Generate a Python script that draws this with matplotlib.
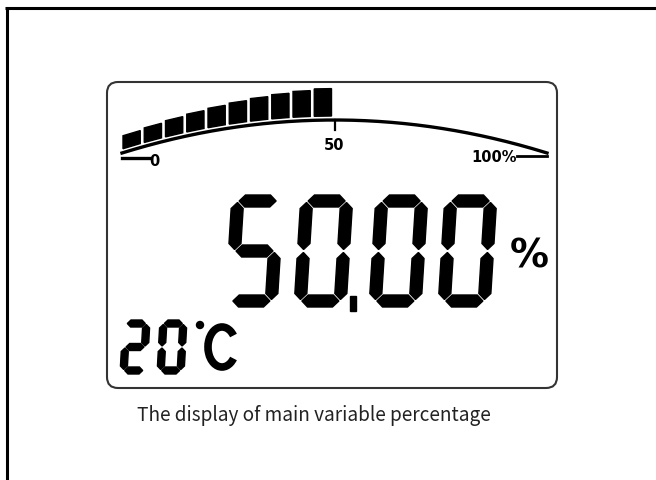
import numpy as np
import matplotlib.pyplot as plt
from matplotlib.patches import Polygon, FancyBboxPatch, Arc, Circle, Rectangle

# readings shown on the LCD
gauge_percent = 50
gauge_segments = 20
gauge_ticks = [0, 50, 100]
gauge_tick_labels = ['0', '50', '100%']
main_value = '50.00'
main_unit = '%'
temperature = '20'
caption = 'The display of main variable percentage'

SEGMENTS = {'0': 'abcdef', '1': 'bc', '2': 'abged', '3': 'abgcd', '4': 'fgbc',
            '5': 'afgcd', '6': 'afgedc', '7': 'abc', '8': 'abcdefg', '9': 'abcdfg'}


def seg_shapes(h, w, t, g):
    # one hexagon per segment, u to the right, v downwards
    l, r = t / 2, w - t / 2
    top, mid, bot = t / 2, h / 2, h - t / 2

    def horiz(vc):
        return [(l + g, vc), (l + g + t / 2, vc - t / 2), (r - g - t / 2, vc - t / 2),
                (r - g, vc), (r - g - t / 2, vc + t / 2), (l + g + t / 2, vc + t / 2)]

    def vert(uc, v1, v2):
        return [(uc, v1 + g), (uc + t / 2, v1 + g + t / 2), (uc + t / 2, v2 - g - t / 2),
                (uc, v2 - g), (uc - t / 2, v2 - g - t / 2), (uc - t / 2, v1 + g + t / 2)]

    return {'a': horiz(top), 'g': horiz(mid), 'd': horiz(bot),
            'f': vert(l, top, mid), 'b': vert(r, top, mid),
            'e': vert(l, mid, bot), 'c': vert(r, mid, bot)}


def draw_digits(ax, text, x0, y0, h, w, t, pitch, slant, g=1.5, dp=6):
    shapes = seg_shapes(h, w, t, g)
    x = x0
    for ch in text:
        if ch == '.':
            ax.add_patch(Rectangle((x - (pitch - w) / 2 - dp / 2 - 2, y0 + h - 11), dp, 15,
                                   color='black'))
            x += dp
            continue
        for s in SEGMENTS[ch]:
            pts = [(x + u + slant * (h - v), y0 + v) for u, v in shapes[s]]
            ax.add_patch(Polygon(pts, closed=True, color='black'))
        x += pitch


def gauge_x(p):
    return 122 + 4.25 * np.asarray(p)


def gauge_y(p):
    return 120 + 33 * ((np.asarray(p) - 50) / 50) ** 2


fig = plt.figure(figsize=(6.56, 4.8), dpi=100)
ax = fig.add_axes([0, 0, 1, 1])
ax.set_xlim(0, 656)
ax.set_ylim(480, 0)
ax.axis('off')

# outer frame (top and left edges only)
ax.plot([5, 656], [8, 8], color='black', lw=2.2, solid_capstyle='butt')
ax.plot([6.5, 6.5], [7, 480], color='black', lw=2.2, solid_capstyle='butt')

# LCD glass
ax.add_patch(FancyBboxPatch((107, 82), 450, 306, boxstyle='round,pad=0,rounding_size=11',
                            fc='white', ec='#333333', lw=1.5))

# bar gauge arc
p = np.linspace(0, 100, 200)
ax.plot(gauge_x(p), gauge_y(p), color='black', lw=2.4)
ax.plot([gauge_x(0), gauge_x(0) + 28], [158, 158], color='black', lw=2.4)
ax.plot([gauge_x(100) - 30, gauge_x(100)], [155.5, 155.5], color='black', lw=2.0)

# lit blocks
step = 100 / gauge_segments
lit = int(round(gauge_percent / step))
for i in range(lit):
    p0 = i * step
    p1 = (i + 1) * step
    xa, xb = gauge_x(p0) + 1, gauge_x(p1) - 3
    ya, yb = gauge_y(p0 + 0.2) - 4, gauge_y(p1 - 0.7) - 4
    hgt = 13 + i * 1.6
    ax.add_patch(Polygon([(xa, ya), (xb, yb), (xb, yb - hgt), (xa, ya - hgt)],
                         closed=True, color='black'))

# ticks and labels
ax.plot([gauge_x(50), gauge_x(50)], [gauge_y(50), gauge_y(50) + 10], color='black', lw=1.6)
label_dx = [32, 0, -53]
label_y = [162, 146, 158]
for tk, lab, dx, ly in zip(gauge_ticks, gauge_tick_labels, label_dx, label_y):
    ax.text(gauge_x(tk) + dx, ly, lab, fontsize=10.5, fontweight='bold',
            ha='center', va='center', color='black')

# main reading
draw_digits(ax, main_value, 225, 195, 112, 52, 12, 69, 7 / 112)
ax.text(529, 256, main_unit, fontsize=28, fontweight='bold', ha='center', va='center')

# temperature
draw_digits(ax, temperature, 120, 320, 54, 27, 7, 37, 3 / 54, g=1.0)
ax.add_patch(Circle((200, 325), 3.5, color='black'))
ax.add_patch(Arc((222, 347), 28, 40, theta1=45, theta2=315, color='black', lw=5.5))

ax.text(137, 421, caption, fontsize=13.7, ha='left', va='baseline',
        family=['Noto Sans CJK KR', 'DejaVu Sans'], color='#222222')

fig.savefig('out.png', dpi=100)
